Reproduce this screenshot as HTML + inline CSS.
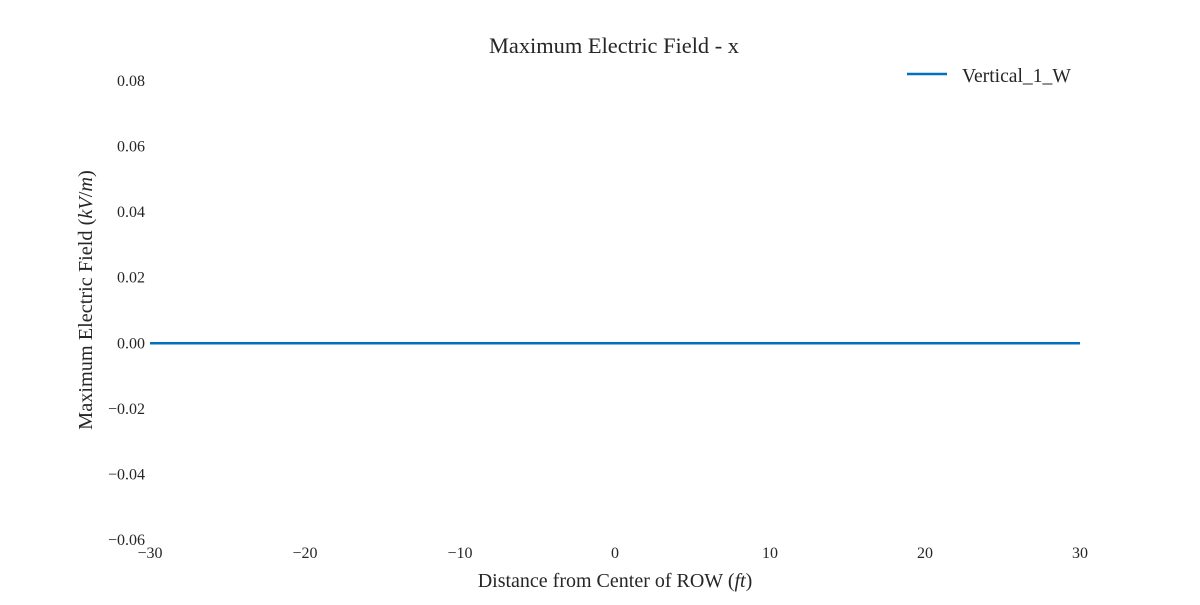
<!DOCTYPE html>
<html>
<head>
<meta charset="utf-8">
<style>
  html, body { margin: 0; padding: 0; background: #fff; }
  svg text { font-family: "Liberation Serif", "DejaVu Serif", serif; fill: #262626; }
</style>
</head>
<body>
<svg id="chart" width="1200" height="600" viewBox="0 0 1200 600" xmlns="http://www.w3.org/2000/svg">
  <rect width="1200" height="600" fill="#ffffff"/>
  <text x="614" y="53" font-size="22.4" text-anchor="middle">Maximum Electric Field - x</text>
  <g id="yticks"></g>
  <g id="xticks"></g>
  <text x="615" y="587" font-size="20" text-anchor="middle">Distance from Center of ROW (<tspan font-style="italic">ft</tspan>)</text>
  <text transform="translate(92,300) rotate(-90)" font-size="20.3" text-anchor="middle">Maximum Electric Field (<tspan font-style="italic">kV</tspan>/<tspan font-style="italic">m</tspan>)</text>
  <g id="series"></g>
  <g>
    <line x1="907" y1="74" x2="947" y2="74" stroke="#0072bd" stroke-width="2.5"/>
    <text x="962" y="82" font-size="19.6">Vertical_1_W</text>
  </g>
</svg>
<script>
const xValues = [-30, -20, -10, 0, 10, 20, 30];
const yValues = [0, 0, 0, 0, 0, 0, 0];
const xTicks = [-30, -20, -10, 0, 10, 20, 30];
const yTicks = [0.08, 0.06, 0.04, 0.02, 0.00, -0.02, -0.04, -0.06];
const yTickLabels = ["0.08", "0.06", "0.04", "0.02", "0.00", "\u22120.02", "\u22120.04", "\u22120.06"];
const xTickLabels = ["\u221230", "\u221220", "\u221210", "0", "10", "20", "30"];

const NS = "http://www.w3.org/2000/svg";
function xs(v) { return 150 + (v + 30) / 60 * 930; }
function ys(v) { return 81 + (0.08 - v) / 0.14 * 459; }

const yg = document.getElementById('yticks');
yTicks.forEach((t, i) => {
  const el = document.createElementNS(NS, 'text');
  el.setAttribute('x', 145);
  el.setAttribute('y', ys(t) + 5);
  el.setAttribute('font-size', '16');
  el.setAttribute('text-anchor', 'end');
  el.textContent = yTickLabels[i];
  
  
  yg.appendChild(el);
});
const xg = document.getElementById('xticks');
xTicks.forEach((t, i) => {
  const el = document.createElementNS(NS, 'text');
  el.setAttribute('x', xs(t));
  el.setAttribute('y', 558);
  el.setAttribute('font-size', '16');
  el.setAttribute('text-anchor', 'middle');
  el.textContent = xTickLabels[i];
  
  
  xg.appendChild(el);
});
const sg = document.getElementById('series');
const pl = document.createElementNS(NS, 'polyline');
pl.setAttribute('points', xValues.map((x, i) => xs(x) + ',' + ys(yValues[i])).join(' '));
pl.setAttribute('fill', 'none');
pl.setAttribute('stroke', '#0072bd');
pl.setAttribute('stroke-width', '2.5');


sg.appendChild(pl);
</script>
</body>
</html>
